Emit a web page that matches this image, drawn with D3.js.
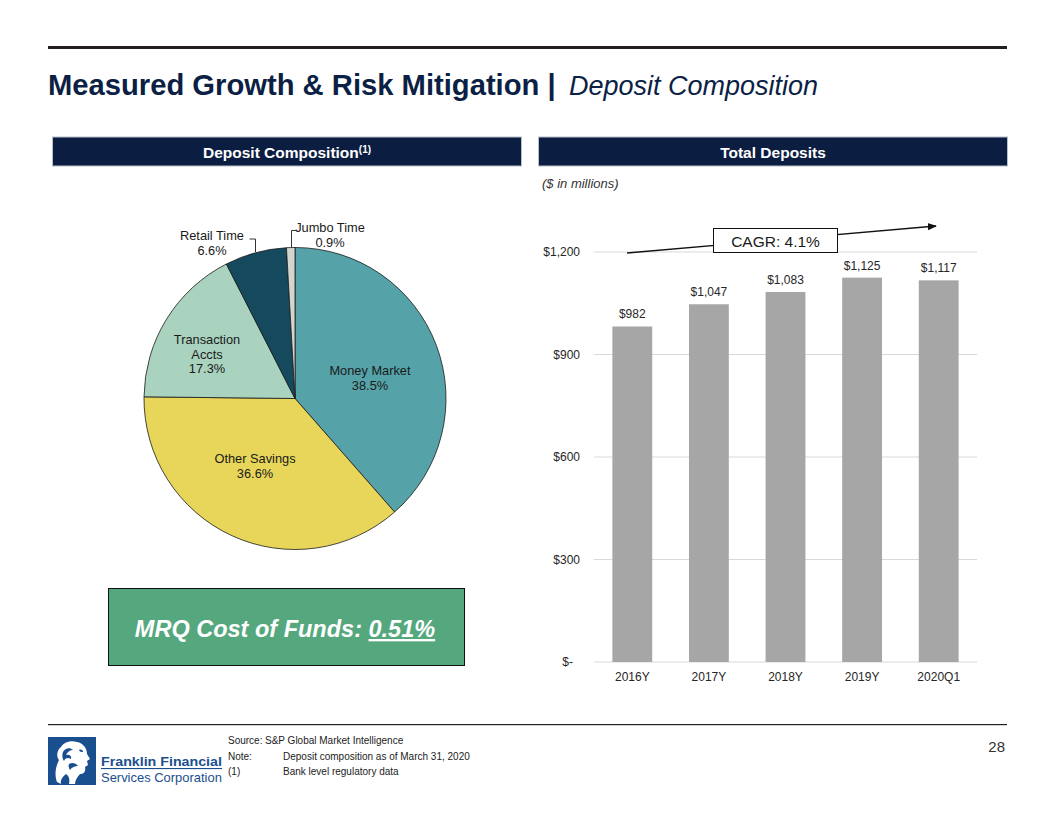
<!DOCTYPE html>
<html><head><meta charset="utf-8">
<script src="https://cdn.jsdelivr.net/npm/d3@7"></script>
<style>
html,body{margin:0;padding:0;background:#fff;}
svg{display:block;font-family:"Liberation Sans",Arial,sans-serif;}
</style></head>
<body>
<svg id="c" width="1056" height="816"></svg>
<script>
// ---- data ----
const pieCategories = ["Money Market","Other Savings","Transaction Accts","Retail Time","Jumbo Time"];
const pieValues = [38.5, 36.6, 17.3, 6.6, 0.9];
const pieColors = ["#55a3a8","#e8d65a","#a9d2bf","#154a5e","#d3d6cf"];

const barCategories = ["2016Y","2017Y","2018Y","2019Y","2020Q1"];
const barValues = [982, 1047, 1083, 1125, 1117];
const yTicks = [0, 300, 600, 900, 1200];
const yTickLabels = ["$-","$300","$600","$900","$1,200"];
const cagrLabel = "CAGR: 4.1%";

const svg = d3.select("#c");
const navy = "#0b1d40";

// top rule
svg.append("rect").attr("x",48).attr("y",46).attr("width",959).attr("height",3).attr("fill","#231f20");
// title
svg.append("text").attr("x",48).attr("y",95).attr("fill","#0c1f45").attr("font-size",29.2)
  .attr("font-weight","bold").text("Measured Growth & Risk Mitigation |");
svg.append("text").attr("x",569).attr("y",95).attr("fill","#0c1f45").attr("font-size",27)
  .attr("font-style","italic").text("Deposit Composition");

// section headers
function header(x, w, txt, sup){
  svg.append("rect").attr("x",x).attr("y",137).attr("width",w).attr("height",29)
    .attr("fill",navy).attr("stroke","#b8bfc8").attr("stroke-width",1);
  const t = svg.append("text").attr("x",x+w/2).attr("y",157.5).attr("text-anchor","middle")
    .attr("fill","#fff").attr("font-weight","bold").attr("font-size",15.5).text(txt);
  if(sup) t.append("tspan").attr("font-size",10).attr("dy",-5).text(sup);
}
header(52.5, 469, "Deposit Composition", "(1)");
header(538.5, 469, "Total Deposits");

// ---- pie ----
const cx = 295, cy = 398.5, R = 151;
const pie = d3.pie().sort(null).value(d=>d)(pieValues);
const arc = d3.arc().innerRadius(0).outerRadius(R);
const pg = svg.append("g").attr("transform",`translate(${cx},${cy})`);
pg.selectAll("path").data(pie).join("path")
  .attr("d",arc).attr("fill",(d,i)=>pieColors[i]).attr("stroke","#1a1a1a").attr("stroke-width",0.8);

function ptxt(lines, x, y, anchor){
  const t = svg.append("text").attr("x",x).attr("y",y).attr("text-anchor",anchor||"middle")
    .attr("font-size",12.8).attr("fill","#1a1a1a");
  lines.forEach((l,i)=>t.append("tspan").attr("x",x).attr("dy",i===0?0:14.5).text(l));
}
const pct = v => v.toFixed(1)+"%";
ptxt(["Money Market", pct(pieValues[0])], 370, 375);
ptxt(["Other Savings", pct(pieValues[1])], 255, 463);
ptxt(["Transaction","Accts", pct(pieValues[2])], 207, 344);
ptxt(["Retail Time", pct(pieValues[3])], 212, 240);
ptxt(["Jumbo Time", pct(pieValues[4])], 330, 232);
// leader lines
svg.append("path").attr("d","M249.5,239 H255.5 V252").attr("fill","none").attr("stroke","#333").attr("stroke-width",1);
svg.append("path").attr("d","M296,230.5 H291.5 V248").attr("fill","none").attr("stroke","#333").attr("stroke-width",1);

// MRQ box
svg.append("rect").attr("x",108.5).attr("y",588.5).attr("width",356).attr("height",77)
  .attr("fill","#55a87e").attr("stroke","#111").attr("stroke-width",1);
const mrq = svg.append("text").attr("x",285).attr("y",637).attr("text-anchor","middle")
  .attr("fill","#fff").attr("font-weight","bold").attr("font-style","italic").attr("font-size",23.5);
mrq.append("tspan").text("MRQ Cost of Funds: ");
mrq.append("tspan").attr("text-decoration","underline").text("0.51%");

// ---- bar chart ----
svg.append("text").attr("x",542).attr("y",188).attr("font-size",13).attr("font-style","italic")
  .attr("fill","#333").text("($ in millions)");

const x = d3.scaleBand().domain(barCategories).range([594,977]).paddingInner(0.48).paddingOuter(0.24);
const y = d3.scaleLinear().domain([0,1200]).range([662,252]);

const gg = svg.append("g");
gg.selectAll("line").data(yTicks).join("line")
  .attr("x1",594).attr("x2",977).attr("y1",d=>y(d)).attr("y2",d=>y(d))
  .attr("stroke","#d9d9d9").attr("stroke-width",1);

const yAxis = d3.axisLeft(y).tickValues(yTicks).tickSize(0).tickPadding(0)
  .tickFormat((d,i)=>yTickLabels[i]);
const ya = svg.append("g").attr("transform","translate(580,0)").call(yAxis);
ya.select(".domain").remove();
ya.selectAll("text").attr("font-size",12).attr("fill","#262626")
  .attr("font-family","Liberation Sans, Arial, sans-serif")
  .attr("dx",(d)=>d===0?-7:0);

svg.append("g").selectAll("rect").data(barValues).join("rect")
  .attr("x",(d,i)=>x(barCategories[i])).attr("width",x.bandwidth())
  .attr("y",d=>y(d)).attr("height",d=>y(0)-y(d)).attr("fill","#a6a6a6");

svg.append("g").selectAll("text").data(barValues).join("text")
  .attr("x",(d,i)=>x(barCategories[i])+x.bandwidth()/2).attr("y",d=>y(d)-8)
  .attr("text-anchor","middle").attr("font-size",12).attr("fill","#262626")
  .text(d=>"$"+d3.format(",")(d));

const xAxis = d3.axisBottom(x).tickSize(0).tickPadding(0);
const xa = svg.append("g").attr("transform","translate(0,672)").call(xAxis);
xa.select(".domain").remove();
xa.selectAll("text").attr("font-size",12).attr("fill","#262626")
  .attr("font-family","Liberation Sans, Arial, sans-serif");

// CAGR arrow
svg.append("defs").append("marker").attr("id","ah").attr("viewBox","0 0 10 10")
  .attr("refX",9).attr("refY",5).attr("markerWidth",7).attr("markerHeight",7).attr("orient","auto")
  .append("path").attr("d","M0,1 L10,5 L0,9 Z").attr("fill","#111");
svg.append("line").attr("x1",627).attr("y1",253).attr("x2",936).attr("y2",226)
  .attr("stroke","#111").attr("stroke-width",1.3).attr("marker-end","url(#ah)");
svg.append("rect").attr("x",713.5).attr("y",228.5).attr("width",124).attr("height",24)
  .attr("fill","#fff").attr("stroke","#111").attr("stroke-width",1);
svg.append("text").attr("x",775.5).attr("y",246.5).attr("text-anchor","middle")
  .attr("font-size",15.5).attr("fill","#1a1a1a").text(cagrLabel);

// ---- footer ----
svg.append("rect").attr("x",48).attr("y",724).attr("width",959).attr("height",1.2).attr("fill","#231f20");
svg.append("text").attr("x",1005).attr("y",752).attr("text-anchor","end").attr("font-size",15)
  .attr("fill","#333").text("28");

const notes = [["Source:","S&P Global Market  Intelligence"],["Note:","Deposit composition as of March 31,  2020"],["(1)","Bank level regulatory data"]];
notes.forEach((n,i)=>{
  svg.append("text").attr("x",228).attr("y",744+i*15.5).attr("font-size",10).attr("fill","#222").text(n[0]);
  svg.append("text").attr("x",i===0?265:283).attr("y",744+i*15.5).attr("font-size",10).attr("fill","#222").text(n[1]);
});

// logo
const blue = "#1a4f8f";
svg.append("rect").attr("x",48).attr("y",737).attr("width",48).attr("height",48).attr("fill",blue);
const lg = svg.append("g").attr("fill","#fff");
// stylised profile (hair and face) in white
lg.append("path").attr("d","M57,782 C54,774 56,766 59,760 C56,756 57,750 61,747 C64,742 71,740 77,742 C83,743 87,748 87,754 L90,759 L87,761 L88,765 L85,767 C86,771 84,774 80,774 C77,777 75,781 75,784 L69,784 C70,779 69,776 66,774 C62,777 60,781 61,784 Z");
lg.append("path").attr("fill",blue).attr("d","M63,752 C65,748 70,747 73,750 C70,750 67,752 66,755 C69,754 72,756 71,759 C68,757 65,758 64,761 C62,758 62,755 63,752 Z M69,764 C72,762 76,763 78,766 C75,766 72,767 70,770 C69,768 68,766 69,764 Z");
lg.append("path").attr("fill",blue).attr("d","M79,750 C81,749 83,750 83,752 C81,752 80,752 79,750 Z");

function fitText(t, w){
  const len = t.node().getComputedTextLength();
  const xx = +t.attr("x"), yy = +t.attr("y");
  t.attr("x",0).attr("y",0).attr("transform",`translate(${xx},${yy}) scale(${w/len},1)`);
}
const t1 = svg.append("text").attr("x",101).attr("y",766).attr("font-family","Liberation Sans, Arial, sans-serif")
  .attr("font-weight","bold").attr("font-size",13.5).attr("fill",blue).text("Franklin Financial");
fitText(t1, 121);
svg.append("rect").attr("x",101).attr("y",768).attr("width",121).attr("height",1.1).attr("fill",blue);
const t2 = svg.append("text").attr("x",101).attr("y",781.5).attr("font-family","Liberation Sans, Arial, sans-serif")
  .attr("font-size",13.5).attr("fill",blue).text("Services Corporation");
fitText(t2, 121);
</script>
</body></html>
